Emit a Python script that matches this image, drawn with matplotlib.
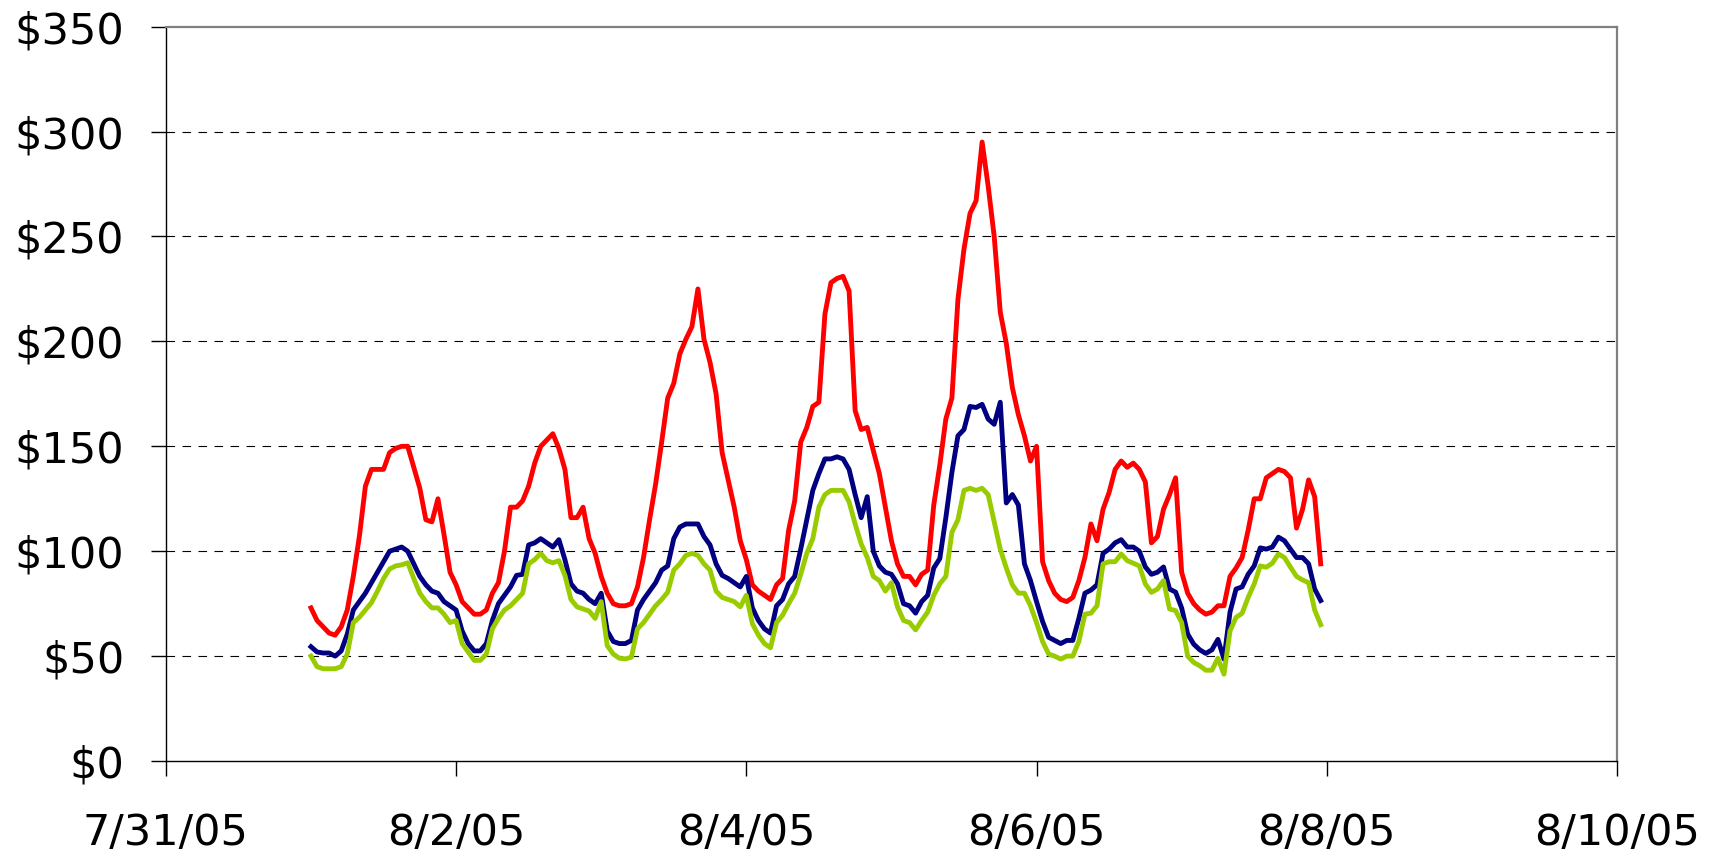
import numpy as np
import pandas as pd
import matplotlib
matplotlib.use('Agg')
import matplotlib.pyplot as plt
import matplotlib.dates as mdates
from matplotlib.ticker import FuncFormatter

# hourly values, 8/1/05 00:00 .. 8/7/05 23:00
hours = pd.date_range('2005-08-01 00:00', periods=168, freq='h')

red = [73, 67, 64, 61, 60, 64, 72, 88, 107, 131, 139, 139, 139, 147, 149, 150,
       150, 140, 130, 115, 114, 125, 108, 90, 84, 76, 73, 70, 70, 72, 80, 85,
       100, 121, 121, 124, 131, 142, 150, 153, 156, 149, 139, 116, 116, 121, 106, 99,
       88, 80, 75, 74, 74, 75, 83, 97, 115, 132, 152, 173, 180, 194, 201, 207,
       225, 201, 190, 175, 147, 134, 121, 105, 96, 84, 81, 79, 77, 84, 87, 110,
       124, 152, 159, 169, 171, 213, 228, 230, 231, 224, 167, 158, 159, 148, 137, 121,
       105, 94, 88, 88, 84, 89, 91, 122, 141, 163, 173, 220, 244, 261, 267, 295,
       274, 250, 214, 199, 178, 165, 155, 143, 150, 95, 86, 80, 77, 76, 78, 86,
       97, 113, 105, 120, 128, 139, 143, 140, 142, 139, 133, 104, 107, 120, 127, 135,
       90, 80, 75, 72, 70, 71, 74, 74, 88, 92, 97, 110, 125, 125, 135, 137,
       139, 138, 135, 111, 120, 134, 126, 94]

navy = [54.5, 52, 51.5, 51.5, 50, 52.5, 60.5, 72, 76, 80, 85, 90, 95, 100, 101, 102,
        100, 94, 88, 84, 81, 80, 76, 74, 72, 62, 56, 52.5, 52.5, 56, 67, 75,
        79, 83, 88.5, 89, 103, 104, 106, 104, 102, 105.5, 96, 84.5, 81, 80, 77, 75,
        80, 62, 57, 56, 56, 57.5, 72, 77, 81, 85, 91, 93, 106, 111.5, 113, 113,
        113, 107, 103, 94, 88.5, 87, 85, 83, 88, 73, 67, 63, 61, 74, 77, 84.5,
        88, 101, 115, 129, 137, 144, 144, 145, 144, 139, 127, 116, 126, 100, 93, 90,
        89, 84.5, 75, 74, 70.5, 76, 79, 92, 96.5, 116, 137.5, 155, 158, 169, 168.5, 170,
        163, 160.5, 171, 123, 127, 122, 94, 86, 76, 66.5, 59, 57.5, 56, 57.5, 57.5, 68,
        80, 81.5, 84, 99, 101, 104, 105.5, 102, 102, 100, 92.5, 89, 90, 92.5, 82, 80.5,
        73, 60.5, 55.7, 53, 51.3, 53, 58, 48.6, 71, 82, 83, 89, 93, 101.6, 101, 102,
        106.7, 105, 101, 97, 97, 94, 82, 76.5]

green = [50, 45, 44, 44, 44, 45, 51, 66, 68.5, 72, 75.5, 81, 87, 91.5, 93, 93.5,
         94.5, 87, 80, 76, 73, 73, 70, 66, 67, 56, 52, 48, 48, 51, 63, 68,
         72, 74, 77, 80, 94, 96, 99, 95.5, 94.5, 95.5, 88.5, 77, 73.5, 72.5, 71.5, 68,
         76, 55, 51, 49, 48.7, 49.5, 63, 66, 70, 74, 77, 80.5, 91, 94, 98, 99,
         98, 94, 91, 81, 78, 77, 76, 73.5, 79, 65.5, 60, 56, 54, 66, 69.5, 75,
         80, 89, 99, 106, 121, 127, 129, 129, 129, 123.5, 113, 103.5, 97, 88, 86, 81,
         85, 73.5, 67, 66, 62.5, 67, 71, 79, 84.5, 88, 109, 115, 129, 130, 129, 130,
         127, 114, 101, 92, 84, 80, 80, 74, 66, 57, 51, 50, 48.6, 50, 50, 57,
         70, 70.5, 74, 94, 95, 95, 98.7, 95.5, 94.3, 93, 84.4, 80.4, 82, 86, 72.5, 71.7,
         66, 50, 47, 45.4, 43.3, 43.3, 49, 41.4, 62, 68.5, 70.4, 78, 84.4, 93, 92.4, 94.3,
         98.7, 97, 92.4, 88, 86.3, 85, 72, 65]

x_ticks = pd.date_range('2005-07-31', '2005-08-10', freq='2D')
y_ticks = [0, 50, 100, 150, 200, 250, 300, 350]

fig = plt.figure(figsize=(17.10, 8.59), dpi=100)
ax = fig.add_axes([0.097, 0.114, 0.8486, 0.855])

ax.plot(hours, red, color='#FF0000', lw=3.5)
ax.plot(hours, navy, color='#000080', lw=3.5)
ax.plot(hours, green, color='#99CC00', lw=3.5)

ax.set_xlim(x_ticks[0], x_ticks[-1])
ax.set_ylim(0, 350)
ax.set_xticks(x_ticks)
ax.xaxis.set_major_formatter(FuncFormatter(
    lambda v, p: (lambda d: f'{d.month}/{d.day}/{d:%y}')(mdates.num2date(v))))
ax.set_yticks(y_ticks)
ax.yaxis.set_major_formatter(FuncFormatter(lambda v, p: f'${v:.0f}'))

for y in y_ticks[1:-1]:
    ax.axhline(y, color='black', lw=0.8, ls=(0, (7.7, 6.7)), zorder=0)

for s in ['top', 'right']:
    ax.spines[s].set_color('#808080')
    ax.spines[s].set_linewidth(1.6)
for s in ['left', 'bottom']:
    ax.spines[s].set_color('black')
    ax.spines[s].set_linewidth(1.0)

ax.tick_params(axis='both', direction='out', length=11, width=1.0, colors='black')
ax.tick_params(axis='y', pad=19)
ax.tick_params(axis='x', pad=26)
for lab in ax.get_xticklabels() + ax.get_yticklabels():
    lab.set_fontfamily('DejaVu Sans')
    lab.set_fontsize(31)

fig.savefig('out.png', dpi=100)
